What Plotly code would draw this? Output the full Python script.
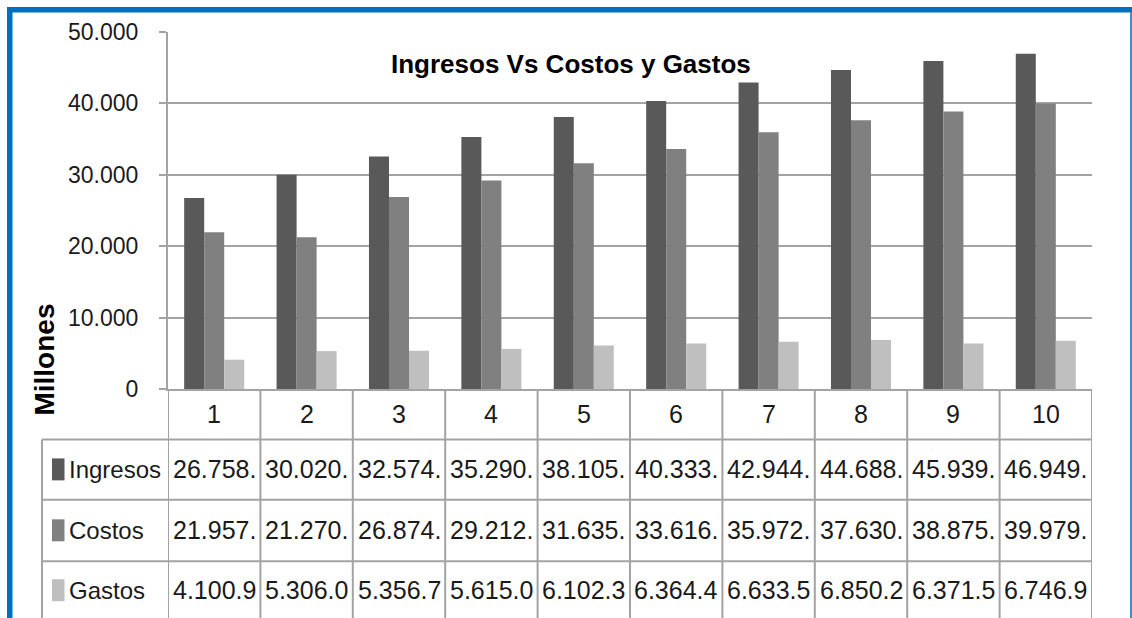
import plotly.graph_objects as go

categories = [1, 2, 3, 4, 5, 6, 7, 8, 9, 10]
series_names = ["Ingresos", "Costos", "Gastos"]
ingresos = [26758, 30020, 32574, 35290, 38105, 40333, 42944, 44688, 45939, 46949]
costos = [21957, 21270, 26874, 29212, 31635, 33616, 35972, 37630, 38875, 39979]
gastos = [4100.9, 5306.0, 5356.7, 5615.0, 6102.3, 6364.4, 6633.5, 6850.2, 6371.5, 6746.9]
ingresos_text = ["26.758.", "30.020.", "32.574.", "35.290.", "38.105.", "40.333.", "42.944.", "44.688.", "45.939.", "46.949."]
costos_text = ["21.957.", "21.270.", "26.874.", "29.212.", "31.635.", "33.616.", "35.972.", "37.630.", "38.875.", "39.979."]
gastos_text = ["4.100.9", "5.306.0", "5.356.7", "5.615.0", "6.102.3", "6.364.4", "6.633.5", "6.850.2", "6.371.5", "6.746.9"]
y_tickvals = [0, 10000, 20000, 30000, 40000, 50000]
y_ticktext = ["0", "10.000", "20.000", "30.000", "40.000", "50.000"]
title_text = "Ingresos Vs Costos y Gastos"
y_title = "Millones"

colors = ["#595959", "#808080", "#bfbfbf"]
FONT = "Liberation Sans, Arial, sans-serif"
TXT = "#1a1a1a"
GRID = "#a3a3a3"
BLUE = "#0070c0"

W, H = 1132, 618
L, R, T, B = 168, 1092, 32, 389.5


def px(x):
    return (x - L) / (R - L)


def py(y):
    return (B - y) / (B - T)


fig = go.Figure()
for name, vals, col in zip(series_names, [ingresos, costos, gastos], colors):
    fig.add_trace(go.Bar(x=categories, y=vals, name=name, marker=dict(color=col, line=dict(width=0)),
                         hoverinfo="skip"))

shapes = []
line = dict(color=GRID, width=2)
# table horizontal lines
for yy in [440, 500.5, 562]:
    shapes.append(dict(type="line", xref="paper", yref="paper", x0=px(42), x1=1, y0=py(yy), y1=py(yy), line=line))
# table vertical lines (category dividers)
for i in range(len(categories) + 1):
    xx = 0.5 + i
    shapes.append(dict(type="line", xref="x", yref="paper", x0=xx, x1=xx, y0=0, y1=py(H + 5), line=line))
# legend column left border
shapes.append(dict(type="line", xref="paper", yref="paper", x0=px(42), x1=px(42), y0=py(440), y1=py(H + 5), line=line))
# legend keys
for col, yc in zip(colors, [470, 531, 591]):
    shapes.append(dict(type="rect", xref="paper", yref="paper", x0=px(52), x1=px(64.5), y0=py(yc - 11), y1=py(yc + 11),
                       fillcolor=col, line=dict(width=0)))
# blue frame
shapes.append(dict(type="rect", xref="paper", yref="paper", x0=px(7), x1=px(W + 5), y0=py(7), y1=py(12.5),
                   fillcolor=BLUE, line=dict(width=0)))
shapes.append(dict(type="rect", xref="paper", yref="paper", x0=px(7), x1=px(12.5), y0=py(7), y1=py(H + 5),
                   fillcolor=BLUE, line=dict(width=0)))
shapes.append(dict(type="rect", xref="paper", yref="paper", x0=px(1130), x1=px(1132), y0=py(12), y1=py(H + 5),
                   fillcolor="#3d8bd0", line=dict(width=0)))

annotations = []
annotations.append(dict(text=title_text, xref="paper", yref="paper", x=px(571), y=py(64), xanchor="center",
                        yanchor="middle", showarrow=False, font=dict(family=FONT, size=26, color="#000000", weight="bold")))
annotations.append(dict(text=y_title, xref="paper", yref="paper", x=px(45), y=py(360), xanchor="center",
                        yanchor="middle", textangle=-90, showarrow=False,
                        font=dict(family=FONT, size=28, color="#000000", weight="bold")))
for c in categories:
    annotations.append(dict(text=str(c), xref="x", yref="paper", x=c, y=py(415), xanchor="center", yanchor="middle",
                            showarrow=False, font=dict(family=FONT, size=25, color=TXT)))
for name, texts, yc in zip(series_names, [ingresos_text, costos_text, gastos_text], [470, 531, 591]):
    annotations.append(dict(text=name, xref="paper", yref="paper", x=px(67), y=py(yc), xanchor="left",
                            yanchor="middle", showarrow=False, font=dict(family=FONT, size=24, color=TXT)))
    for c, t in zip(categories, texts):
        annotations.append(dict(text=t, xref="x", yref="paper", x=c, y=py(yc), xanchor="center", yanchor="middle",
                                showarrow=False, font=dict(family=FONT, size=25, color=TXT)))

fig.update_layout(
    width=W, height=H, autosize=False,
    margin=dict(l=L, r=W - R, t=T, b=H - B, pad=0),
    paper_bgcolor="white", plot_bgcolor="white",
    barmode="group", bargap=0.35, bargroupgap=0,
    showlegend=False,
    shapes=shapes, annotations=annotations,
    xaxis=dict(range=[0.5, 10.5], showticklabels=False, ticks="", showgrid=False, zeroline=False,
               showline=True, linecolor=GRID, linewidth=2, fixedrange=True),
    yaxis=dict(range=[0, 50000], tickvals=y_tickvals, ticktext=y_ticktext, ticks="outside", ticklen=7,
               tickcolor=GRID, tickwidth=2, showgrid=True, gridcolor=GRID, gridwidth=2, zeroline=False,
               showline=True, linecolor=GRID, linewidth=2, ticklabelstandoff=16,
               tickfont=dict(family=FONT, size=23, color=TXT), fixedrange=True),
)

fig.write_html("out.html", config={"displayModeBar": False},
               post_script="document.body.style.margin='0';document.documentElement.style.overflow='hidden';")
